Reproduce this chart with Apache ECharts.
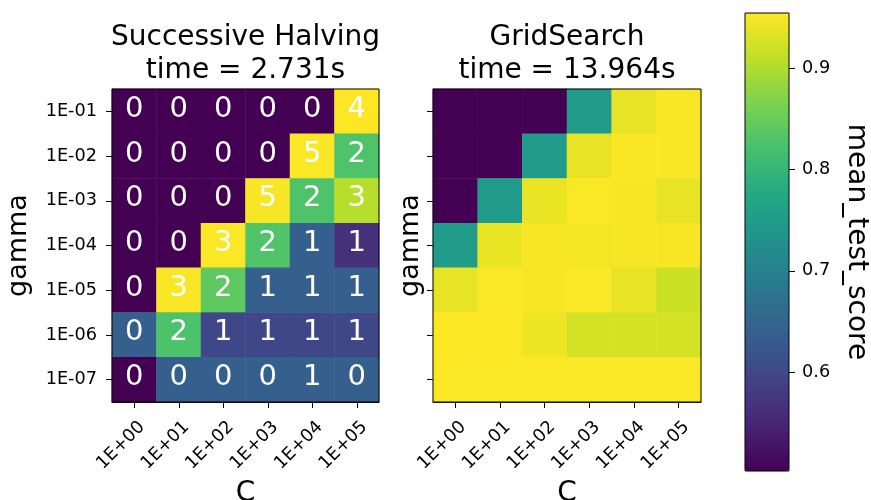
<!DOCTYPE html>
<html>
<head>
<meta charset="utf-8">
<script src="https://cdn.jsdelivr.net/npm/echarts@6/dist/echarts.min.js"></script>
<style>
  html, body { margin: 0; padding: 0; background: #fff; }
  #chart { width: 871px; height: 500px; }
</style>
</head>
<body>
<div id="chart"></div>
<script>
// Hyper-parameter grid: C along x, gamma along y (top row = 1E-01)
const cLabels = ['1E+00', '1E+01', '1E+02', '1E+03', '1E+04', '1E+05'];
const gammaLabels = ['1E-01', '1E-02', '1E-03', '1E-04', '1E-05', '1E-06', '1E-07'];

// Successive halving: mean_test_score of each candidate
const shScores = [
  [0.502, 0.502, 0.502, 0.502, 0.502, 0.955],
  [0.502, 0.502, 0.502, 0.502, 0.953, 0.828],
  [0.502, 0.502, 0.502, 0.950, 0.828, 0.905],
  [0.502, 0.502, 0.953, 0.830, 0.638, 0.565],
  [0.502, 0.952, 0.842, 0.638, 0.638, 0.638],
  [0.640, 0.826, 0.597, 0.597, 0.597, 0.597],
  [0.502, 0.638, 0.638, 0.638, 0.638, 0.638]
];
// Successive halving: last iteration each candidate reached
const shIters = [
  [0, 0, 0, 0, 0, 4],
  [0, 0, 0, 0, 5, 2],
  [0, 0, 0, 5, 2, 3],
  [0, 0, 3, 2, 1, 1],
  [0, 3, 2, 1, 1, 1],
  [0, 2, 1, 1, 1, 1],
  [0, 0, 0, 0, 1, 0]
];
// Exhaustive grid search: mean_test_score of each candidate
const gsScores = [
  [0.502, 0.502, 0.502, 0.748, 0.940, 0.952],
  [0.502, 0.502, 0.748, 0.940, 0.952, 0.952],
  [0.502, 0.748, 0.941, 0.953, 0.950, 0.940],
  [0.748, 0.941, 0.951, 0.948, 0.950, 0.951],
  [0.939, 0.953, 0.951, 0.953, 0.940, 0.919],
  [0.955, 0.955, 0.944, 0.926, 0.926, 0.926],
  [0.953, 0.953, 0.953, 0.953, 0.953, 0.953]
];
const titles = ['Successive Halving\ntime = 2.731s', 'GridSearch\ntime = 13.964s'];
const scoreMin = 0.5022;
const scoreMax = 0.9548;
const cbarTicks = [0.6, 0.7, 0.8, 0.9];

const viridis = ['#440154', '#482475', '#414487', '#355f8d', '#2a788e', '#21918c',
                 '#22a884', '#44bf70', '#7ad151', '#bddf26', '#fde725'];
const FONT = 'DejaVu Sans';
const INK = '#000';

// [column, row, score, iteration]
function toCells(scores, iters) {
  const out = [];
  scores.forEach((row, r) => row.forEach((v, c) => {
    out.push([c, r, v, iters ? iters[r][c] : 0]);
  }));
  return out;
}

const chart = echarts.init(document.getElementById('chart'), null, { renderer: 'canvas' });

const xAxisBase = (gridIndex) => ({
  type: 'category', gridIndex, data: cLabels,
  axisLine: { show: true, lineStyle: { color: INK, width: 1 } },
  axisTick: { show: true, alignWithLabel: true, length: 6, lineStyle: { color: INK } },
  axisLabel: { rotate: 45, margin: 30, padding: [0, -11, 0, 0], fontSize: 17.7, fontFamily: FONT, color: INK, interval: 0 },
  splitLine: { show: false },
  name: 'C', nameLocation: 'middle', nameGap: 78, nameMoveOverlap: false,
  nameTextStyle: { fontSize: 28, fontFamily: FONT, color: INK }
});
const yAxisBase = (gridIndex, showLabels, nameGap) => ({
  type: 'category', gridIndex, data: gammaLabels, inverse: true,
  axisLine: { show: true, lineStyle: { color: INK, width: 1 } },
  axisTick: { show: true, alignWithLabel: true, length: 6, lineStyle: { color: INK } },
  axisLabel: { show: showLabels, margin: 15, fontSize: 17.7, fontFamily: FONT, color: INK, interval: 0 },
  splitLine: { show: false },
  name: 'gamma', nameLocation: 'middle', nameGap, nameRotate: 90,
  nameTextStyle: { fontSize: 27, fontFamily: FONT, color: INK }
});

const heatLabel = {
  show: true,
  formatter: (p) => String(p.data[3]),
  color: '#fff', fontSize: 29, fontFamily: FONT, offset: [0, -2]
};

const titleStyle = { fontSize: 28, fontWeight: 'normal', fontFamily: FONT, color: INK, lineHeight: 33 };

const gridBase = { show: true, borderColor: INK, borderWidth: 1, backgroundColor: 'transparent',
                   outerBoundsMode: 'none', containLabel: false };

const option = {
  backgroundColor: '#fff',
  animation: false,
  title: [
    { text: titles[0], left: 245.5, top: 21, textAlign: 'center', padding: 0, textStyle: titleStyle },
    { text: titles[1], left: 567, top: 21, textAlign: 'center', padding: 0, textStyle: titleStyle }
  ],
  grid: [
    Object.assign({ left: 112, top: 89, width: 267, height: 313, z: 5 }, gridBase),
    Object.assign({ left: 433, top: 89, width: 268, height: 313, z: 5 }, gridBase),
    Object.assign({ left: 745, top: 13, width: 44, height: 458, z: 8 }, gridBase)
  ],
  xAxis: [
    xAxisBase(0),
    xAxisBase(1),
    { type: 'category', gridIndex: 2, data: [''], show: false }
  ],
  yAxis: [
    yAxisBase(0, true, 80),
    yAxisBase(1, false, 9),
    {
      type: 'value', gridIndex: 2, position: 'right', min: scoreMin, max: scoreMax,
      axisLine: { show: false },
      axisTick: { show: true, length: 6, customValues: cbarTicks, lineStyle: { color: INK } },
      axisLabel: { show: true, customValues: cbarTicks, margin: 13, fontSize: 17.7, fontFamily: FONT, color: INK,
                   formatter: (v) => v.toFixed(1) },
      splitLine: { show: false },
      name: 'mean_test_score', nameLocation: 'middle', nameRotate: -90, nameGap: 53,
      nameTextStyle: { fontSize: 28, fontFamily: FONT, color: INK }
    }
  ],
  visualMap: {
    type: 'continuous', min: scoreMin, max: scoreMax, seriesIndex: [0, 1], dimension: 2,
    calculable: false, realtime: false, orient: 'vertical',
    left: 745, top: 13, padding: 0, itemWidth: 44, itemHeight: 458,
    inRange: { color: viridis },
    text: null, showLabel: false, hoverLink: false
  },
  series: [
    { type: 'heatmap', xAxisIndex: 0, yAxisIndex: 0, z: 1, data: toCells(shScores, shIters),
      label: heatLabel, itemStyle: { borderWidth: 0 }, emphasis: { disabled: true } },
    { type: 'heatmap', xAxisIndex: 1, yAxisIndex: 1, z: 1, data: toCells(gsScores, null),
      label: { show: false }, itemStyle: { borderWidth: 0 }, emphasis: { disabled: true } }
  ]
};

chart.setOption(option);
</script>
</body>
</html>
